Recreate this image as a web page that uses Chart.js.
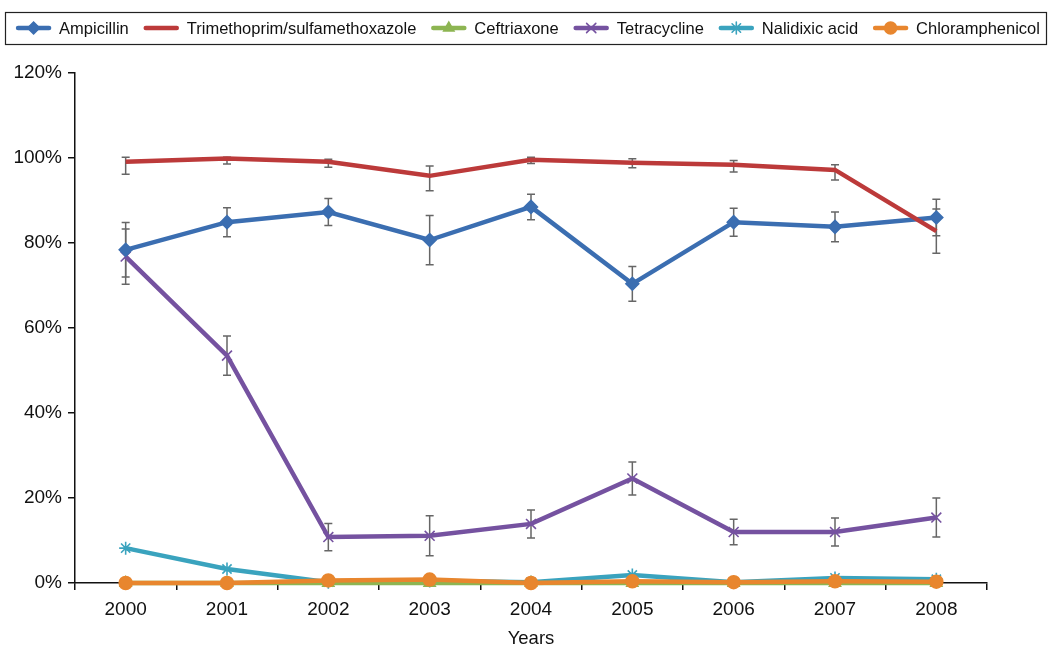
<!DOCTYPE html>
<html>
<head>
<meta charset="utf-8">
<script src="https://cdn.jsdelivr.net/npm/chart.js@4/dist/chart.umd.min.js"></script>
<style>
  html, body { margin: 0; padding: 0; background: #fff; }
  canvas { display: block; }
</style>
</head>
<body>
<canvas id="c" width="1051" height="646"></canvas>
<script>
// Resistance rates (%) per year, with error bar half-widths
const years = ['2000', '2001', '2002', '2003', '2004', '2005', '2006', '2007', '2008'];

const ampicillin    = [78.4, 84.9, 87.3, 80.7, 88.5, 70.4, 84.9, 83.8, 86.0];
const ampicillinErr = [6.4, 3.4, 3.2, 5.8, 3.0, 4.1, 3.3, 3.5, 4.3];

const trimSulfa        = [99.1, 99.9, 99.1, 95.8, 99.6, 98.9, 98.4, 97.2, 82.8];
const trimSulfaErrLow  = [2.9, 1.3, 1.3, 3.5, 0.9, 1.2, 1.7, 2.4, 5.2];
const trimSulfaErrHigh = [1.1, 0.3, 0.6, 2.3, 0.6, 0.9, 1.0, 1.2, 5.2];

const ceftriaxone = [0, 0, 0, 0, 0, 0, 0, 0, 0];

const tetracycline    = [76.8, 53.5, 10.8, 11.1, 13.9, 24.6, 12.0, 12.0, 15.4];
const tetracyclineErr = [6.5, 4.6, 3.2, 4.7, 3.3, 3.9, 3.0, 3.3, 4.6];

const nalidixicAcid   = [8.2, 3.3, 0.2, 0.5, 0.2, 1.9, 0.2, 1.2, 0.9];
const chloramphenicol = [0, 0, 0.6, 0.8, 0, 0.4, 0.2, 0.4, 0.3];

const yTicks = [0, 20, 40, 60, 80, 100, 120];

const FONT = '"Liberation Sans", Arial, Helvetica, sans-serif';

function series(label, data, color, style, radius, order, extra) {
  return Object.assign({
    label, data, order,
    borderColor: color,
    backgroundColor: color,
    borderWidth: 4.5,
    pointStyle: style,
    pointRadius: radius,
    pointBorderWidth: 1.5,
    pointBackgroundColor: color,
    pointBorderColor: color,
    tension: 0,
    clip: false
  }, extra || {});
}

const datasets = [
  series('Ampicillin', ampicillin, '#3b6eb1', 'rectRot', 6.5, 4,
    { errMinus: ampicillinErr, errPlus: ampicillinErr }),
  series('Trimethoprim/sulfamethoxazole', trimSulfa, '#bc3a3a', 'circle', 0, 3,
    { errMinus: trimSulfaErrLow, errPlus: trimSulfaErrHigh }),
  series('Ceftriaxone', ceftriaxone, '#8db552', 'triangle', 6.5, 1),
  series('Tetracycline', tetracycline, '#7552a0', 'crossRot', 7, 5,
    { errMinus: tetracyclineErr, errPlus: tetracyclineErr, pointBorderWidth: 1.6 }),
  series('Nalidixic acid', nalidixicAcid, '#3aa3be', 'star', 6.5, 2,
    { pointBorderWidth: 1.6 }),
  series('Chloramphenicol', chloramphenicol, '#e8862e', 'circle', 6.5, 0)
];

// Vertical error bars with caps, drawn beneath the lines
const errorBars = {
  id: 'errorBars',
  beforeDatasetsDraw(chart) {
    const ctx = chart.ctx;
    const y = chart.scales.y;
    ctx.save();
    ctx.strokeStyle = '#666';
    ctx.lineWidth = 1.5;
    chart.data.datasets.forEach((ds, i) => {
      if (!ds.errMinus) return;
      const meta = chart.getDatasetMeta(i);
      meta.data.forEach((pt, j) => {
        const v = ds.data[j];
        const top = y.getPixelForValue(v + ds.errPlus[j]);
        const bot = y.getPixelForValue(v - ds.errMinus[j]);
        const x = pt.x;
        ctx.beginPath();
        ctx.moveTo(x, top); ctx.lineTo(x, bot);
        ctx.moveTo(x - 4, top); ctx.lineTo(x + 4, top);
        ctx.moveTo(x - 4, bot); ctx.lineTo(x + 4, bot);
        ctx.stroke();
      });
    });
    ctx.restore();
  }
};

// Boxed legend across the top, each entry a line sample with its marker
const boxedLegend = {
  id: 'boxedLegend',
  afterDraw(chart) {
    const ctx = chart.ctx;
    const sample = 35, gapText = 8, gapItem = 15;
    const cy = 28;
    ctx.save();
    ctx.font = '16.5px ' + FONT;
    const items = chart.data.datasets.map(ds => ({ ds, w: ctx.measureText(ds.label).width }));
    const total = items.reduce((s, it) => s + sample + gapText + it.w, 0) + gapItem * (items.length - 1);
    let x = 528 - total / 2;

    ctx.strokeStyle = '#222';
    ctx.lineWidth = 1.2;
    ctx.strokeRect(5.5, 12.5, 1041, 32);

    items.forEach(({ ds, w }) => {
      ctx.strokeStyle = ds.borderColor;
      ctx.lineWidth = 4.5;
      ctx.lineCap = 'round';
      ctx.beginPath();
      ctx.moveTo(x + 2, cy); ctx.lineTo(x + sample - 2, cy);
      ctx.stroke();
      if (ds.pointRadius > 0) {
        ctx.fillStyle = ds.pointBackgroundColor;
        ctx.strokeStyle = ds.pointBorderColor;
        ctx.lineWidth = ds.pointBorderWidth;
        Chart.helpers.drawPoint(ctx, {
          pointStyle: ds.pointStyle,
          radius: ds.pointRadius - 0.5,
          rotation: 0,
          borderWidth: ds.pointBorderWidth
        }, x + sample / 2, cy);
      }
      ctx.fillStyle = '#111';
      ctx.textBaseline = 'middle';
      ctx.textAlign = 'left';
      ctx.fillText(ds.label, x + sample + gapText, cy + 1);
      x += sample + gapText + w + gapItem;
    });
    ctx.restore();
  }
};

new Chart(document.getElementById('c'), {
  type: 'line',
  data: { labels: years, datasets },
  plugins: [errorBars, boxedLegend],
  options: {
    responsive: false,
    animation: false,
    layout: { padding: { top: 73, right: 64, left: 0, bottom: 0 } },
    plugins: { legend: { display: false }, tooltip: { enabled: false } },
    scales: {
      x: {
        offset: true,
        afterFit(scale) { scale.height = 63; },
        grid: { offset: true, drawOnChartArea: false, tickLength: 7, color: '#111', lineWidth: 1.5 },
        border: { color: '#111', width: 1.5 },
        ticks: { color: '#111', padding: 8, maxRotation: 0, font: { family: FONT, size: 19 } },
        title: {
          display: true, text: 'Years', color: '#111',
          padding: { top: 0, bottom: -4 },
          font: { family: FONT, size: 18.5 }
        }
      },
      y: {
        min: 0, max: 120,
        afterFit(scale) { scale.width = 75; },
        afterBuildTicks(scale) { scale.ticks = yTicks.map(v => ({ value: v })); },
        grid: { drawOnChartArea: false, tickLength: 7, color: '#111', lineWidth: 1.5 },
        border: { color: '#111', width: 1.5 },
        ticks: {
          color: '#111', padding: 6,
          font: { family: FONT, size: 19 },
          callback: v => v + '%'
        }
      }
    }
  }
});
</script>
</body>
</html>
